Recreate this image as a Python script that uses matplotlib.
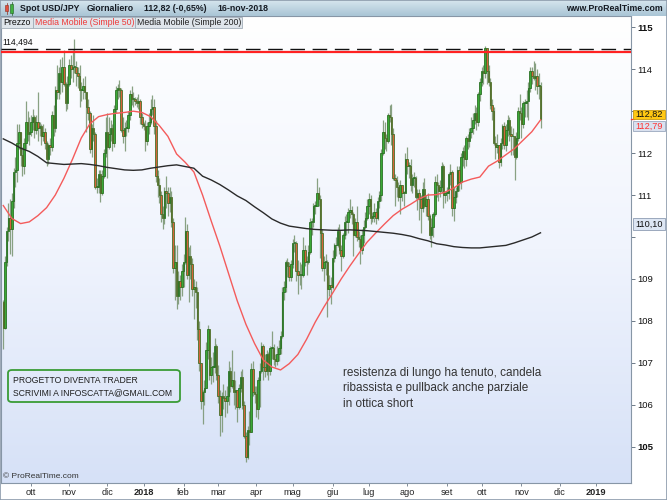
import numpy as np
import pandas as pd
import matplotlib
matplotlib.use("Agg")
import matplotlib.pyplot as plt
from matplotlib.patches import Rectangle, FancyBboxPatch
from matplotlib.colors import LinearSegmentedColormap
from matplotlib import font_manager

# ---------------- data (USD/JPY daily) ----------------
first_day = "2017-09-08"
last_day = "2018-11-16"
first_open = 108.45

closes = [
    # Sep 2017
    107.84, 109.40, 110.15, 110.45, 110.20, 110.85, 111.55, 111.60, 112.25, 112.50, 111.95, 111.70, 112.25, 112.75, 112.45, 112.50,
    # Oct 2017
    112.75, 112.85, 112.55, 112.75, 112.60, 112.65, 112.40, 112.50, 112.25, 111.85, 112.20, 112.15, 112.90, 112.60, 113.50, 113.45, 113.90, 113.70, 114.05, 113.65, 113.20, 113.65,
    # Nov 2017
    114.10, 114.00, 114.05, 114.05, 113.90, 113.85, 113.50, 113.50, 113.60, 113.45, 113.10, 112.95, 112.10, 112.60, 112.45, 111.20, 111.20, 111.50, 111.05, 111.45, 112.00, 112.50,
    # Dec 2017
    112.15, 112.45, 112.60, 112.25, 113.05, 113.50, 113.55, 113.50, 112.55, 112.40, 112.60, 112.60, 112.90, 113.40, 113.30, 113.30, 113.25, 113.20, 113.25, 112.85, 112.70,
    # Jan 2018
    112.65, 112.30, 112.65, 112.75, 113.05, 113.10, 112.65, 111.45, 111.25, 111.00, 110.55, 110.45, 111.10, 111.05, 110.80, 110.95, 110.35, 109.25, 109.40, 108.60, 108.95, 108.80, 109.20,
    # Feb 2018
    109.40, 110.15, 109.10, 109.55, 109.35, 108.75, 108.80, 108.70, 107.80, 107.00, 106.10, 106.30, 106.40, 107.30, 107.80, 106.70, 106.90, 106.90, 107.40, 106.70,
    # Mar 2018
    106.20, 105.75, 106.20, 106.15, 106.10, 106.20, 106.80, 106.45, 106.60, 106.30, 106.35, 105.95, 106.40, 106.65, 106.00, 105.25, 104.75, 105.40, 105.35, 106.85, 106.30, 106.25,
    # Apr 2018
    105.90, 106.60, 106.80, 107.40, 106.90, 106.80, 107.20, 106.80, 107.35, 107.35, 107.10, 107.05, 107.20, 107.35, 107.65, 108.70, 108.80, 109.40, 109.30, 109.05, 109.35,
    # May 2018
    109.85, 109.85, 109.20, 109.10, 109.10, 109.10, 109.70, 109.40, 109.40, 109.65, 110.35, 110.35, 110.75, 110.75, 111.05, 110.90, 110.10, 109.25, 109.40, 109.40, 108.75, 108.85, 108.80,
    # Jun 2018
    109.50, 109.80, 109.80, 110.15, 109.70, 109.55, 110.05, 110.35, 110.35, 110.60, 110.65, 110.55, 110.05, 110.35, 110.00, 109.95, 109.70, 110.05, 110.25, 110.45, 110.75,
    # Jul 2018
    110.90, 110.45, 110.50, 110.60, 110.45, 110.85, 111.00, 112.00, 112.50, 112.35, 112.30, 112.90, 112.85, 112.45, 111.40, 111.35, 111.20, 110.95, 111.25, 111.05, 111.05, 111.85,
    # Aug 2018
    111.70, 111.70, 111.25, 111.40, 111.40, 110.95, 111.05, 110.90, 110.70, 111.15, 110.75, 110.90, 110.50, 110.05, 110.25, 110.55, 111.30, 111.25, 111.10, 111.20, 111.70, 111.00, 111.05,
    # Sep 2018
    111.05, 111.50, 111.55, 110.70, 110.95, 111.10, 111.60, 111.30, 111.90, 112.05, 111.85, 112.35, 112.30, 112.50, 112.60, 112.80, 112.95, 112.75, 113.40, 113.70,
    # Oct 2018
    113.95, 113.90, 114.50, 113.95, 113.70, 113.15, 113.00, 112.25, 112.15, 112.20, 111.80, 112.25, 112.65, 112.20, 112.55, 112.80, 112.45, 112.40, 112.40, 111.90, 112.35, 113.00, 112.95,
    # Nov 2018
    112.70, 113.20, 113.20, 113.25, 113.55, 113.95, 113.85, 113.80, 113.85, 113.60, 113.60, 112.82,
]

highs = [
    108.50, 109.55, 110.25, 110.80, 110.90, 111.05, 111.65, 111.90, 112.70, 112.70, 112.50, 112.15, 112.35, 113.25, 113.00, 112.85,
    112.90, 113.05, 112.90, 112.90, 113.45, 112.75, 112.70, 112.70, 112.60, 112.30, 112.25, 112.35, 113.00, 113.15, 113.60, 114.10, 114.05, 114.25, 114.30, 114.45, 113.70, 113.85,
    114.25, 114.35, 114.45, 114.73, 114.20, 114.05, 114.10, 113.70, 113.80, 113.85, 113.45, 113.30, 113.00, 112.70, 112.90, 112.50, 111.40, 111.60, 111.60, 111.60, 112.10, 112.85,
    112.95, 112.85, 112.80, 112.70, 113.15, 113.60, 113.65, 113.75, 113.55, 112.85, 112.75, 112.80, 113.00, 113.50, 113.60, 113.45, 113.35, 113.35, 113.40, 113.30, 112.95,
    112.75, 112.80, 112.75, 112.95, 113.30, 113.38, 113.30, 112.80, 111.60, 111.40, 111.10, 110.75, 111.20, 111.45, 111.20, 111.20, 111.10, 110.45, 109.80, 109.80, 109.20, 109.10, 109.35,
    109.60, 110.48, 110.30, 109.75, 109.80, 109.50, 109.00, 108.95, 108.80, 108.00, 107.00, 106.35, 106.60, 107.50, 107.90, 107.75, 107.15, 107.25, 107.60, 107.45,
    106.95, 106.35, 106.30, 106.50, 106.35, 106.45, 107.05, 106.90, 107.30, 106.80, 106.60, 106.35, 106.50, 106.80, 106.85, 106.10, 105.35, 105.50, 105.85, 107.00, 107.05, 106.45,
    106.45, 106.65, 107.00, 107.50, 107.45, 107.20, 107.30, 107.25, 107.40, 107.75, 107.45, 107.20, 107.40, 107.55, 107.75, 108.80, 108.95, 109.45, 109.50, 109.40, 109.45,
    109.95, 110.05, 109.90, 109.45, 109.40, 109.35, 110.00, 109.80, 109.55, 109.80, 110.45, 110.45, 110.80, 110.85, 111.40, 111.20, 111.00, 110.20, 109.55, 109.60, 109.45, 109.10, 109.05,
    109.70, 109.85, 110.00, 110.25, 110.30, 109.80, 110.10, 110.50, 110.55, 110.70, 110.90, 110.75, 110.60, 110.45, 110.75, 110.15, 110.05, 110.20, 110.40, 110.60, 110.90,
    111.05, 111.00, 110.60, 110.80, 110.70, 110.95, 111.10, 112.10, 112.80, 112.75, 112.45, 112.95, 113.15, 113.18, 112.60, 111.50, 111.45, 111.30, 111.35, 111.25, 111.10, 112.00,
    112.15, 111.80, 111.85, 111.50, 111.55, 111.45, 111.15, 111.15, 111.00, 111.30, 111.40, 111.00, 111.05, 110.55, 110.45, 110.60, 111.45, 111.50, 111.30, 111.35, 111.80, 111.75, 111.10,
    111.20, 111.55, 111.75, 111.60, 111.20, 111.20, 111.70, 111.70, 112.00, 112.15, 112.20, 112.40, 112.45, 112.60, 112.85, 112.95, 113.15, 113.10, 113.45, 113.80,
    114.05, 114.10, 114.55, 114.50, 114.10, 113.80, 113.30, 113.10, 112.40, 112.45, 112.20, 112.35, 112.70, 112.75, 112.70, 112.90, 112.85, 112.65, 112.60, 112.40, 112.50, 113.10, 113.40,
    113.10, 113.25, 113.30, 113.50, 113.70, 114.05, 114.05, 114.20, 114.15, 114.00, 113.90, 113.70,
]

lows = [
    107.32, 107.80, 109.30, 109.90, 109.60, 109.55, 110.70, 111.20, 111.30, 112.10, 111.70, 111.45, 111.50, 112.10, 112.30, 112.20,
    112.40, 112.55, 112.35, 112.45, 112.30, 112.40, 112.20, 112.30, 112.10, 111.70, 111.75, 111.95, 112.05, 112.40, 112.50, 113.30, 113.30, 113.40, 113.45, 113.60, 113.00, 113.05,
    113.60, 113.80, 113.70, 113.90, 113.60, 113.55, 113.10, 113.25, 113.30, 113.30, 112.50, 112.80, 112.00, 111.90, 112.30, 111.15, 111.05, 111.05, 110.84, 111.00, 111.40, 111.90,
    111.40, 112.10, 112.30, 112.05, 112.15, 112.95, 113.30, 113.35, 112.50, 112.25, 112.05, 112.40, 112.50, 112.80, 113.15, 113.10, 113.15, 113.10, 113.05, 112.70, 112.60,
    112.55, 112.05, 112.20, 112.45, 112.70, 112.90, 112.45, 111.30, 110.95, 110.80, 110.35, 110.20, 110.30, 110.70, 110.50, 110.60, 110.25, 109.15, 108.50, 108.28, 108.40, 108.50, 108.60,
    108.80, 109.35, 109.00, 108.45, 109.00, 108.60, 108.05, 108.30, 107.55, 106.80, 105.90, 105.55, 106.00, 106.40, 107.10, 106.60, 106.50, 106.55, 106.75, 106.60,
    106.05, 105.25, 105.35, 105.90, 105.70, 105.80, 106.00, 106.30, 106.40, 106.00, 105.90, 105.60, 105.90, 106.30, 105.90, 105.20, 104.63, 104.70, 105.05, 105.35, 106.20, 106.05,
    105.70, 105.65, 105.95, 106.75, 106.60, 106.65, 106.70, 106.60, 106.70, 107.10, 106.95, 106.90, 106.95, 107.05, 107.20, 107.60, 108.50, 108.70, 109.05, 108.95, 108.95,
    109.25, 109.65, 108.95, 108.65, 108.85, 108.75, 109.05, 109.30, 109.10, 109.35, 109.60, 110.05, 110.25, 110.55, 110.80, 110.75, 109.50, 109.20, 108.95, 109.10, 108.10, 108.60, 108.40,
    108.75, 109.40, 109.55, 109.75, 109.60, 109.20, 109.50, 109.95, 110.05, 110.10, 110.45, 110.30, 109.55, 110.00, 109.90, 109.75, 109.35, 109.60, 109.85, 110.20, 110.40,
    110.55, 110.30, 110.35, 110.35, 110.30, 110.40, 110.70, 110.85, 111.95, 112.10, 112.05, 112.25, 112.75, 112.20, 111.35, 110.75, 110.95, 110.85, 110.55, 110.85, 110.75, 111.05,
    111.50, 111.40, 111.10, 111.05, 111.20, 110.90, 110.65, 110.40, 110.10, 110.60, 110.70, 110.50, 110.40, 109.95, 109.77, 110.00, 110.50, 110.95, 110.85, 110.95, 111.05, 110.70, 110.80,
    110.85, 110.90, 111.25, 110.50, 110.38, 110.80, 110.95, 111.10, 111.15, 111.70, 111.65, 111.70, 112.10, 112.15, 112.35, 112.45, 112.70, 112.55, 112.65, 113.25,
    113.60, 113.65, 113.80, 113.65, 113.60, 113.05, 112.80, 112.20, 111.85, 112.00, 111.65, 111.70, 112.10, 112.10, 112.05, 112.40, 112.30, 111.95, 111.95, 111.37, 111.85, 112.30, 112.80,
    112.35, 112.60, 112.85, 112.85, 112.80, 113.45, 113.65, 113.75, 113.50, 113.40, 113.30, 112.60,
]

# FX daily candles open at the previous close
opens = [first_open] + closes[:-1]

# moving averages, every 5 sessions
ma_step = 5
ma50 = [110.75, 110.44, 110.32, 110.36, 110.51, 110.70, 111.00, 111.40, 111.86, 112.36, 112.70,
        112.87, 112.92, 112.95, 112.97, 113.00, 112.97, 112.87, 112.66, 112.40, 111.98, 111.78,
        111.55, 111.00, 110.38, 109.78, 109.13, 108.48, 107.92, 107.46, 107.07, 106.90, 106.83,
        106.98, 107.20, 107.56, 107.97, 108.33, 108.66, 109.00, 109.31, 109.60, 109.88, 110.10,
        110.31, 110.51, 110.66, 110.78, 110.91, 111.00, 111.01, 111.07, 111.17, 111.31, 111.38,
        111.43, 111.69, 111.81, 111.96, 112.11, 112.31, 112.51, 112.79]
ma200 = [112.34, 112.24, 112.12, 112.04, 111.92, 111.77, 111.75, 111.73, 111.74, 111.75, 111.73,
         111.70, 111.66, 111.63, 111.60, 111.59, 111.60, 111.64, 111.67, 111.70, 111.72, 111.68,
         111.64, 111.45, 111.36, 111.25, 111.12, 110.98, 110.87, 110.72, 110.58, 110.43, 110.33,
         110.26, 110.23, 110.20, 110.18, 110.17, 110.16, 110.16, 110.17, 110.16, 110.15, 110.13,
         110.11, 110.09, 110.06, 110.02, 109.96, 109.91, 109.84, 109.81, 109.77, 109.75, 109.74,
         109.74, 109.76, 109.78, 109.80, 109.86, 109.93, 110.00, 110.10]

resistance_level = 114.494
resistance_line = 114.42
last_close = 112.82
last_ma50 = 112.79
last_ma200 = 110.10
price_ticks = [105, 106, 107, 108, 109, 110, 111, 112, 113, 114, 115]
hidden_price_labels = [110, 113]   # covered by the value boxes in the reference
month_names = ["gen", "feb", "mar", "apr", "mag", "giu", "lug", "ago", "set", "ott", "nov", "dic"]
axis_end_day = "2019-01-31"

title_parts = ["Spot USD/JPY", "Giornaliero", "112,82 (-0,65%)", "16-nov-2018"]
legend_tabs = ["Prezzo", "Media Mobile (Simple 50)", "Media Mobile (Simple 200)"]
box_lines = ["PROGETTO DIVENTA TRADER", "SCRIVIMI A INFOSCATTA@GMAIL.COM"]
note_lines = ["resistenza di lungo ha tenuto, candela",
              "ribassista e pullback anche parziale",
              "in ottica short"]

# ---------------- styling ----------------
plt.rcParams['font.family'] = ['Liberation Sans', 'DejaVu Sans']
avail = {f.name for f in font_manager.fontManager.ttflist}
narrow = 'Liberation Sans Narrow' if 'Liberation Sans Narrow' in avail else 'Liberation Sans'
narrow_size = 7.6 if narrow == 'Liberation Sans Narrow' else 6.6

W, H = 667, 500
def fx(x):
    return x / W
def fy(y):
    return 1 - y / H

fig = plt.figure(figsize=(W / 100, H / 100), dpi=100, facecolor='white')

# pixel -> data mapping (from the reference)
def price_at(ypix):
    return 115 - (ypix - 27.3) / 41.94
def index_at(xpix):
    return 16 + (xpix - 31) / 1.733

ax = fig.add_axes([fx(1), fy(483), fx(631) - fx(1), fy(16) - fy(483)])
x0, x1 = index_at(1), index_at(631)
y0, y1 = price_at(483), price_at(16)

bg = LinearSegmentedColormap.from_list('bg', ['#ffffff', '#f0f4fd', '#d6e1f7'])
ax.imshow(np.linspace(0, 1, 256).reshape(-1, 1), cmap=bg, aspect='auto',
          extent=[x0, x1, y0, y1], zorder=0, interpolation='bilinear')

dates = pd.bdate_range(first_day, last_day)
n = len(dates)
k = np.arange(n)
o = np.array(opens)
c = np.array(closes)
hi = np.array(highs)
lo = np.array(lows)
up = c >= o
body_lo = np.minimum(o, c)
body_h = np.maximum(np.abs(c - o), 0.02)

ax.vlines(k, lo, hi, colors='#7d9876', linewidth=0.9, alpha=0.9, zorder=2)
ax.bar(k[up], body_h[up], bottom=body_lo[up], width=0.85, color='#3aa836',
       edgecolor='#236a1c', linewidth=0.55, zorder=3)
ax.bar(k[~up], body_h[~up], bottom=body_lo[~up], width=0.85, color='#d4643a',
       edgecolor='#3a6e22', linewidth=0.55, zorder=3)

ma_k = np.arange(0, n, ma_step)
ax.plot(ma_k, ma50, color='#f45b5b', lw=1.0, zorder=4, solid_joinstyle='round')
ax.plot(ma_k, ma200, color='#2a2a2a', lw=1.0, zorder=4, solid_joinstyle='round')

ax.axhline(resistance_level, color='#111111', lw=1.0, dashes=(10.5, 5.5), zorder=5)
ax.axhline(resistance_line, color='#ff2222', lw=1.6, zorder=5)
ax.annotate(f"{resistance_level:.3f}".replace('.', ','), xy=(0.003, resistance_level),
            xycoords=('axes fraction', 'data'), xytext=(0, 1.5), textcoords='offset points',
            fontsize=6.2, color='#111111', va='bottom', ha='left', zorder=6)

ax.set_xlim(x0, x1)
ax.set_ylim(y0, y1)

# right price axis
ax.yaxis.tick_right()
ax.set_yticks(price_ticks)
ax.set_yticklabels(['' if t in hidden_price_labels else str(t) for t in price_ticks])
ax.tick_params(axis='y', direction='out', length=3, width=0.7, pad=1.5,
               colors='#6d7a88', labelcolor='#111111', labelsize=6.8)
for lbl in ax.get_yticklabels():
    if lbl.get_text() in (str(price_ticks[0]), str(price_ticks[-1])):
        lbl.set_fontweight('bold')

# month axis
ext = pd.bdate_range(first_day, axis_end_day)
pos, labs = [], []
for i in range(1, len(ext)):
    if ext[i].month != ext[i - 1].month:
        pos.append(i)
        labs.append(str(ext[i].year) if ext[i].month == 1 else month_names[ext[i].month - 1])
ax.set_xticks(pos)
ax.set_xticklabels(labs, family=narrow, fontsize=narrow_size, color='#222222')
ax.tick_params(axis='x', direction='out', length=2, width=0.6, pad=1.5, colors='#6d7a88',
               labelcolor='#222222')
for lbl in ax.get_xticklabels():
    if lbl.get_text().isdigit():
        lbl.set_fontweight('bold')

for s in ax.spines.values():
    s.set_color('#8796a6')
    s.set_linewidth(0.8)

ax.text(0.003, (483 - 477) / 467, "\u00a9 ProRealTime.com", transform=ax.transAxes,
        fontsize=6.0, color='#333333', va='center', ha='left', zorder=6)

# ---------------- header ----------------
hax = fig.add_axes([0, fy(16), 1, 16 / H])
hdr = LinearSegmentedColormap.from_list('hdr', ['#d6e5ee', '#a9c5d5'])
hax.imshow(np.linspace(0, 1, 64).reshape(-1, 1), cmap=hdr, aspect='auto',
           extent=[0, 1, 0, 1], interpolation='bilinear')
hax.set_xlim(0, 1); hax.set_ylim(0, 1)
hax.axis('off')

# candle icon
fig.patches.append(Rectangle((fx(5), fy(11)), fx(3), 6 / H, transform=fig.transFigure,
                             fc='#e05040', ec='#903020', lw=0.4, zorder=6))
fig.patches.append(Rectangle((fx(10), fy(13)), fx(3), 9 / H, transform=fig.transFigure,
                             fc='#40b040', ec='#206020', lw=0.4, zorder=6))
fig.lines.append(plt.Line2D([fx(6.5), fx(6.5)], [fy(14), fy(3)], transform=fig.transFigure,
                            color='#903020', lw=0.5, zorder=5))
fig.lines.append(plt.Line2D([fx(11.5), fx(11.5)], [fy(15), fy(1.5)], transform=fig.transFigure,
                            color='#206020', lw=0.5, zorder=5))

for txt, xp in zip(title_parts, [20, 87, 144, 217]):
    fig.text(fx(xp), fy(8.3), txt, fontsize=6.3, fontweight='bold', color='#151a22',
             ha='left', va='center', zorder=7)
fig.text(fx(663), fy(8.8), "www.ProRealTime.com", fontsize=6.3, fontweight='bold',
         color='#151a22', ha='right', va='center', zorder=7)

# legend tabs
tab_edges = [(1, 33), (33, 135), (135, 242)]
tab_colors = ['#111111', '#ee3b3b', '#222222']
for (a, b), txt, col in zip(tab_edges, legend_tabs, tab_colors):
    fig.patches.append(Rectangle((fx(a), fy(28)), fx(b) - fx(a), 11 / H, transform=fig.transFigure,
                                 fc='#dfe5eb', ec='#a2adb8', lw=0.6, zorder=6))
    fig.text(fx(a + 2), fy(22.6), txt, fontsize=6.3, color=col, ha='left', va='center', zorder=7)

# price boxes on the right axis
def price_box(ytop, ybot, text, fc, ec, tc):
    fig.patches.append(Rectangle((fx(633), fy(ybot)), fx(665) - fx(633), (ybot - ytop) / H,
                                 transform=fig.transFigure, fc=fc, ec=ec, lw=0.6, zorder=6))
    fig.text(fx(649), fy((ytop + ybot) / 2 + 0.3), text, fontsize=6.6, color=tc,
             ha='center', va='center', zorder=7)

def fmt(v):
    return f"{v:.2f}".replace('.', ',')

price_box(110, 119, fmt(last_close), '#ffc812', '#c89a10', '#111111')
price_box(121, 131, fmt(last_ma50), '#d9e1ef', '#9aa8bf', '#ff3030')
price_box(218, 229.5, fmt(last_ma200), '#dde6f3', '#8e9db3', '#111111')
fig.lines.append(plt.Line2D([fx(631), fx(634)], [fy(118.6), fy(118.6)], transform=fig.transFigure,
                            color='#ff3030', lw=0.9, zorder=6))

# info box
fig.patches.append(FancyBboxPatch((fx(8), fy(402)), fx(180) - fx(8), 32 / H,
                                  boxstyle='round,pad=0,rounding_size=0.006',
                                  transform=fig.transFigure, fc='none', ec='#3a9c36',
                                  lw=1.3, zorder=6))
for txt, yp in zip(box_lines, [380.5, 392.5]):
    fig.text(fx(13), fy(yp), txt, fontsize=6.2, color='#1e1e1e', ha='left', va='center', zorder=7)

# comment
for txt, yp in zip(note_lines, [373, 388.5, 404]):
    fig.text(fx(343), fy(yp), txt, fontsize=8.5, color='#333333', ha='left', va='center', zorder=7)

# outer frame
fig.patches.append(Rectangle((0, 0), 1, 1, transform=fig.transFigure, fill=False,
                             ec='#8c9bab', lw=1.2, zorder=10))

fig.savefig("out.png", dpi=100, facecolor='white')
